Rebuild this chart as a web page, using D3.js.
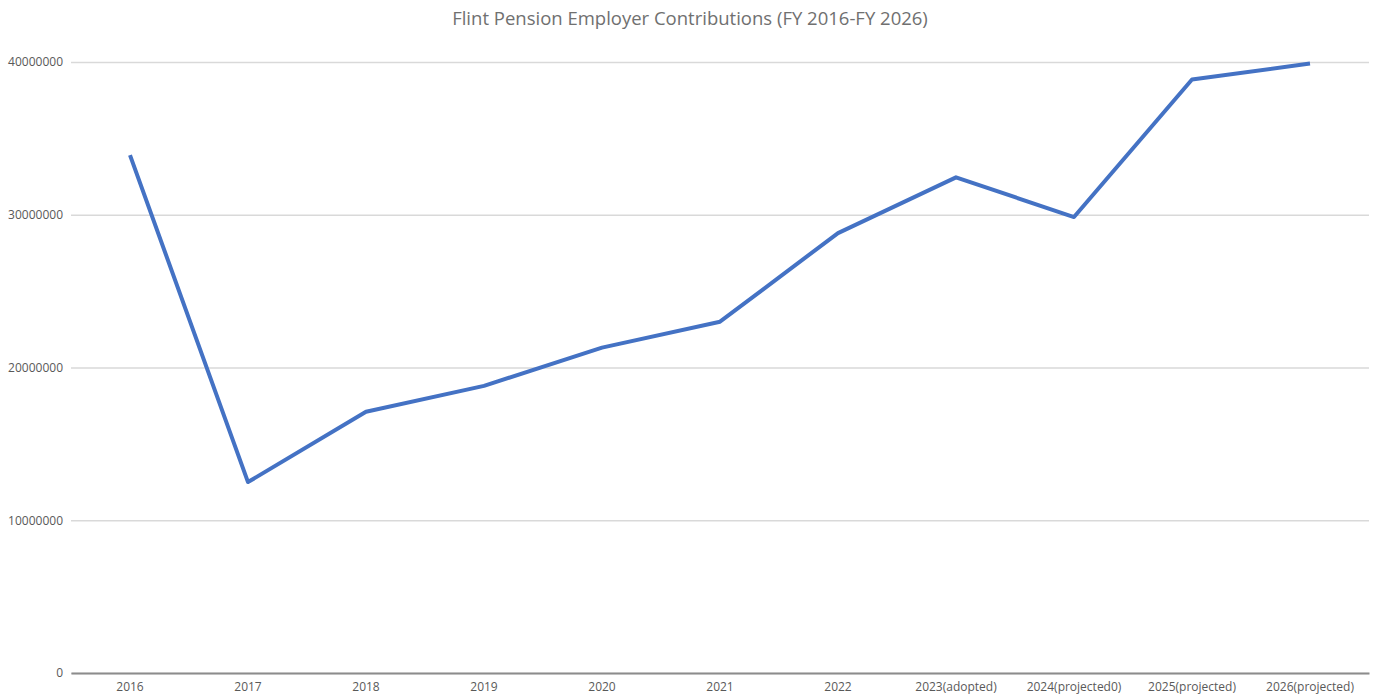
<!DOCTYPE html>
<html><head><meta charset="utf-8">
<script src="https://cdn.jsdelivr.net/npm/d3@7"></script>
<style>body{margin:0;background:#fff;}svg{display:block;}</style>
</head><body>
<svg id="c" width="1376" height="698"></svg>
<script>
const categories = ["2016","2017","2018","2019","2020","2021","2022","2023(adopted)","2024(projected0)","2025(projected)","2026(projected)"];
const values = [33900000,12500000,17100000,18800000,21300000,23000000,28800000,32450000,29850000,38850000,39900000];
const yTicks = [0,10000000,20000000,30000000,40000000];
const title = "Flint Pension Employer Contributions (FY 2016-FY 2026)";

(function(){
const svg = d3.select("#c");
const mL = 71, mR = 1369, mT = 62, mB = 673;
const x = d3.scaleBand().domain(categories).range([mL,mR]);
const y = d3.scaleLinear().domain([0,40000000]).range([mB,mT]);
const font = "'Open Sans', 'Liberation Sans', sans-serif";

svg.append("text").attr("x",690).attr("y",25).attr("text-anchor","middle")
  .attr("font-family",font).attr("font-size",18.5).attr("fill","#707070").text(title);

const yAxis = d3.axisLeft(y).tickValues(yTicks).tickSize(-(mR-mL)).tickPadding(8).tickFormat(d3.format("d"));
const gy = svg.append("g").attr("transform",`translate(${mL},0)`).call(yAxis);
gy.select(".domain").remove();
gy.selectAll(".tick line").attr("stroke","#d9d9d9").attr("stroke-width",1.3);
gy.selectAll(".tick text").attr("font-family",font).attr("font-size",12).attr("fill","#595959");

const xAxis = d3.axisBottom(x).tickSize(0).tickPadding(9);
const gx = svg.append("g").attr("transform",`translate(0,${mB})`).call(xAxis);
gx.select(".domain").attr("stroke","#8c8c8c").attr("stroke-width",2);
gx.selectAll(".tick text").attr("font-family",font).attr("font-size",12).attr("fill","#595959");

const line = d3.line().x((d,i)=>x(categories[i])+x.bandwidth()/2).y(d=>y(d));
svg.append("path").datum(values).attr("d",line).attr("fill","none")
  .attr("stroke","#4472c4").attr("stroke-width",4).attr("stroke-linejoin","round");
})();
</script>
</body></html>
